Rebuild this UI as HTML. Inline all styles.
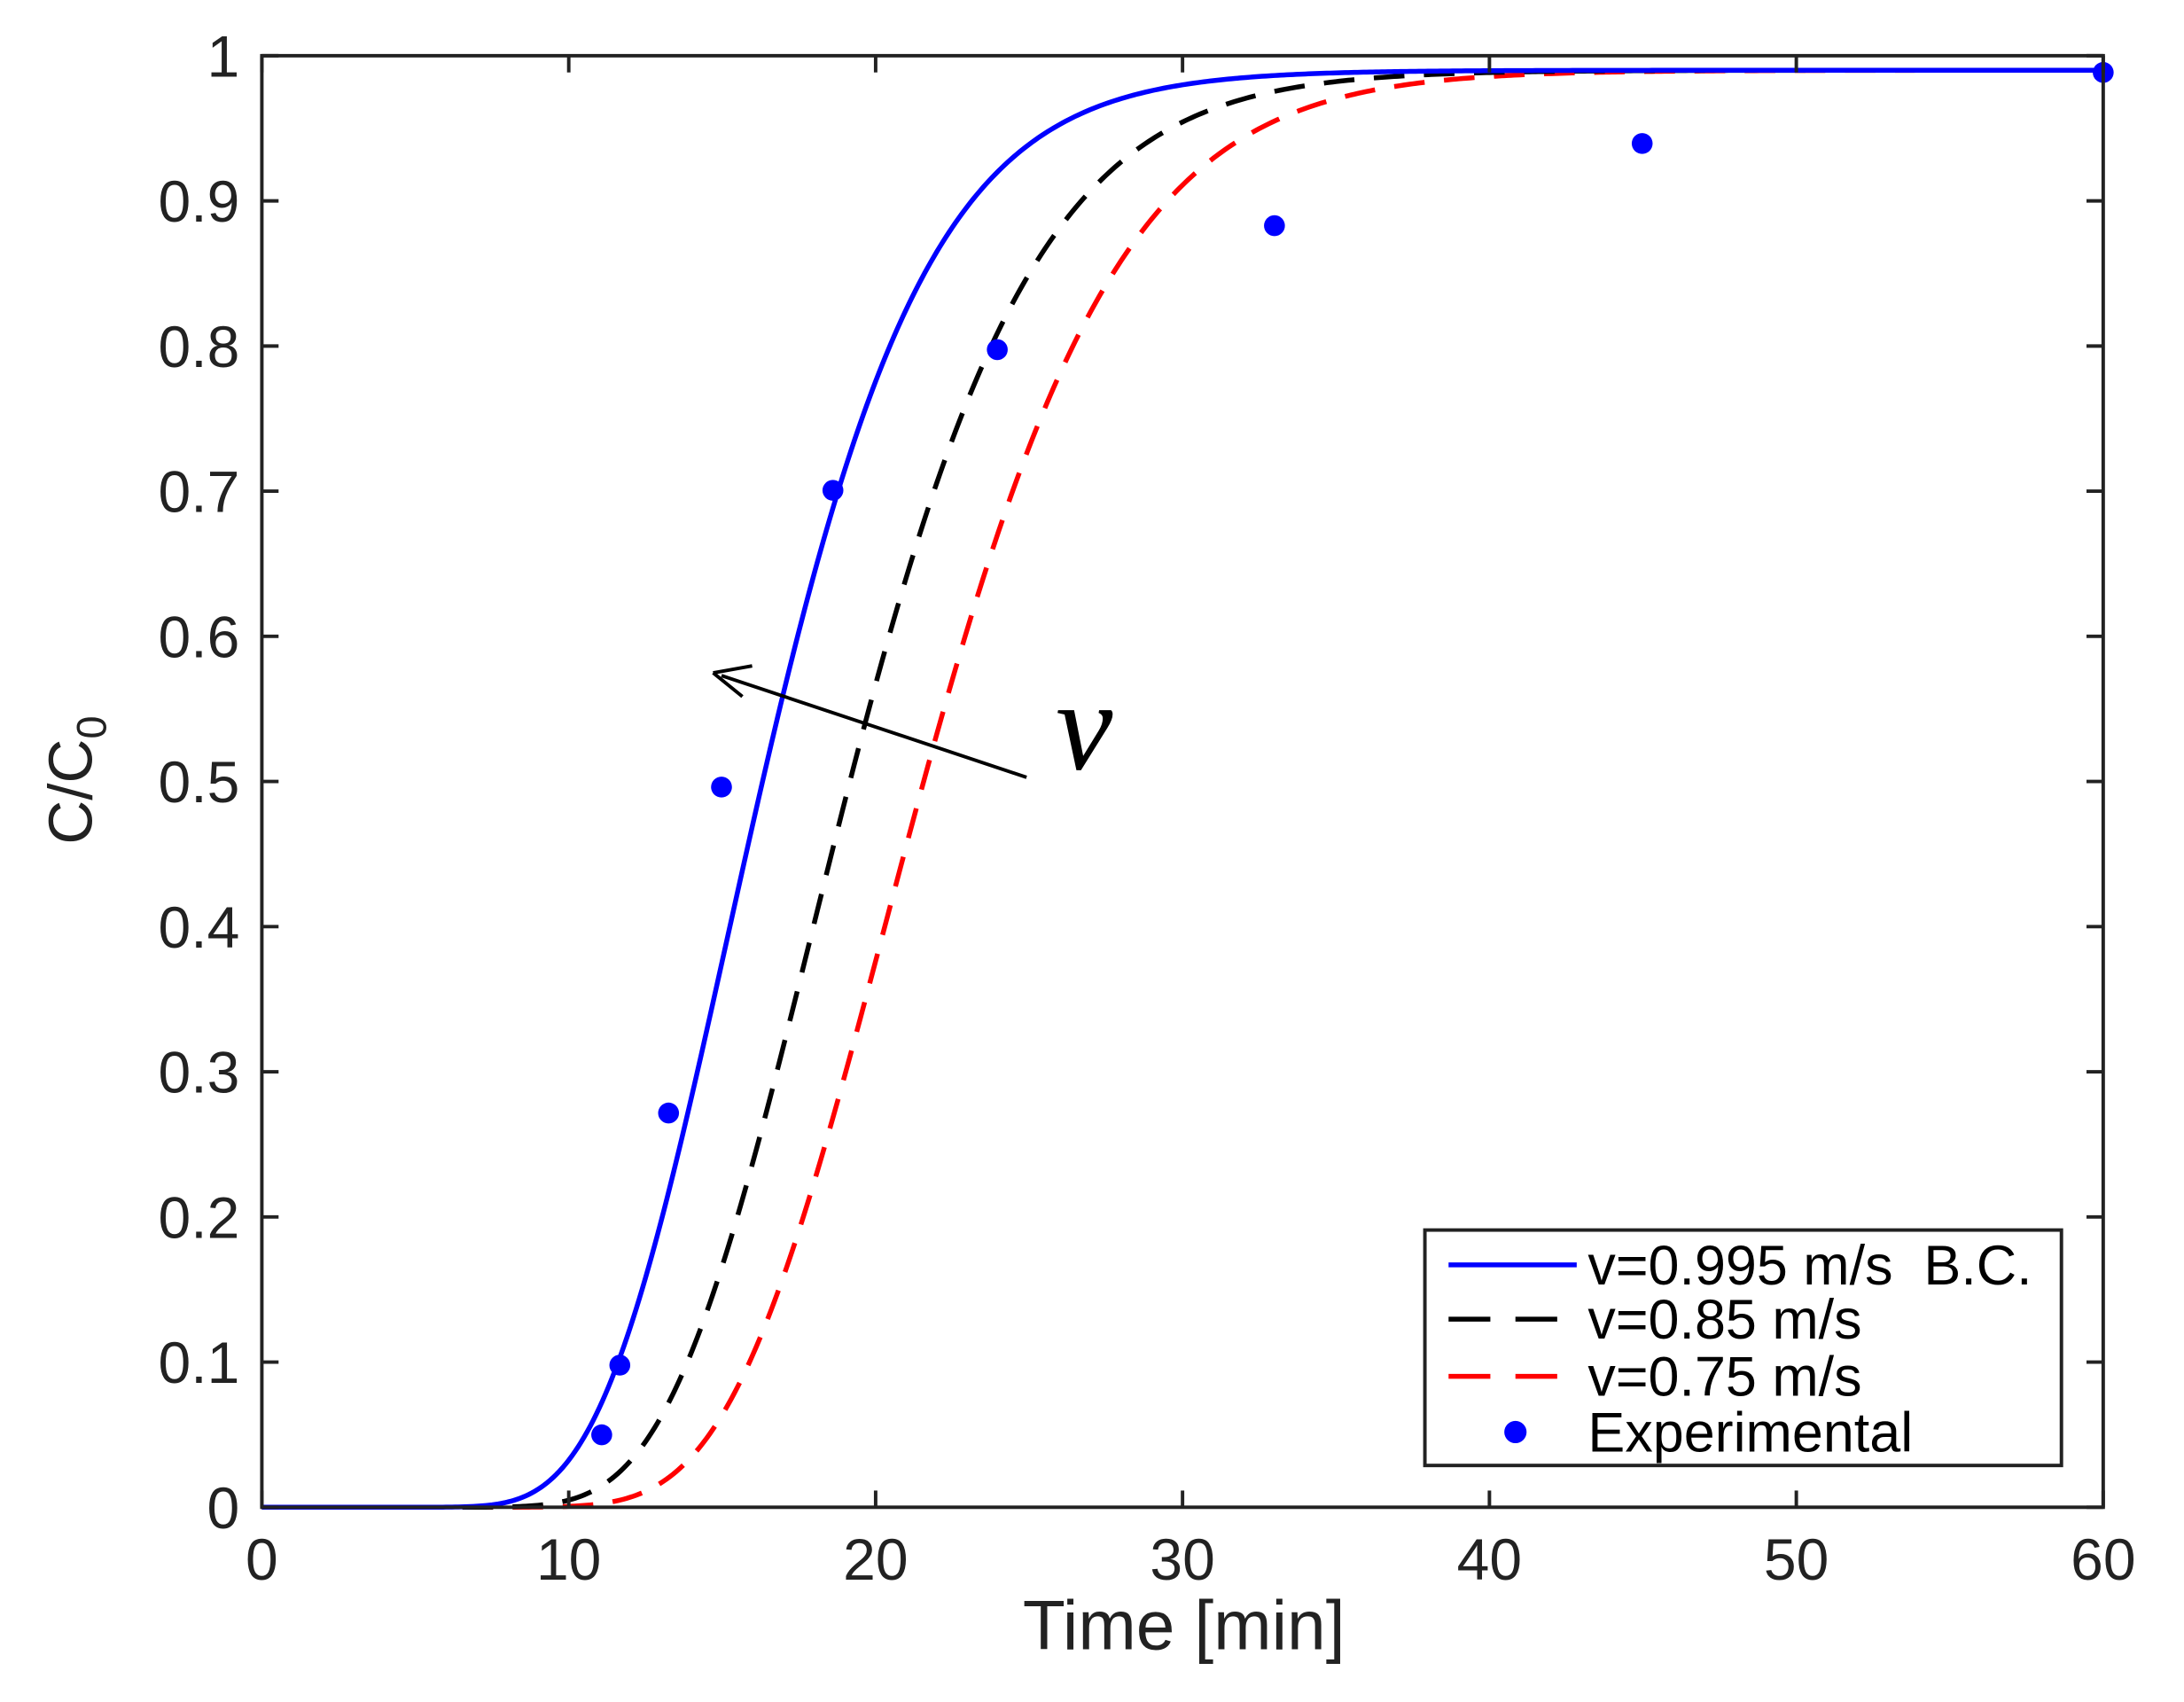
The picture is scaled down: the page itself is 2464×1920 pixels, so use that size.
<!DOCTYPE html>
<html><head><meta charset="utf-8"><style>
html,body{margin:0;padding:0;background:#fff;}
svg{display:block;}
text{font-family:"Liberation Sans",sans-serif;fill:#222;}
</style></head><body>
<svg id="s" width="2464" height="1920" viewBox="0 0 1568 1221.8" preserveAspectRatio="none" xmlns="http://www.w3.org/2000/svg">
<rect width="1600" height="1260" fill="#fff"/>
<g id="curves" fill="none" stroke-width="3.5"></g>
<g id="dots" fill="#0000ff"></g>
<g id="ticks" stroke="#222" stroke-width="2.5"></g>
<rect x="188" y="40" width="1322" height="1042" fill="none" stroke="#222" stroke-width="2.5"/>
<g font-size="42" text-anchor="end" id="yl"></g>
<g font-size="42" text-anchor="middle" id="xl"></g>
<text x="850" y="1184" font-size="50" text-anchor="middle">Time [min]</text>
<text transform="translate(66,560) rotate(-90)" font-size="44" text-anchor="middle">C/C<tspan font-size="30" dy="10">0</tspan></text>
<line x1="737" y1="558" x2="518" y2="485" stroke="#000" stroke-width="2.5"/>
<path d="M512 483 L540 478 M512 483 L533 500" stroke="#000" stroke-width="2.5" fill="none"/>
<text x="758" y="552" font-size="92" font-style="italic" style="font-family:'Liberation Serif',serif;fill:#000">ν</text>
<rect x="1023" y="883" width="457" height="169" fill="#fff" stroke="#222" stroke-width="2.5"/>
<line x1="1040" y1="908" x2="1132" y2="908" stroke="#0000ff" stroke-width="3.5"/>
<line x1="1040" y1="947" x2="1132" y2="947" stroke="#000" stroke-width="3.5" stroke-dasharray="30,18"/>
<line x1="1040" y1="988" x2="1132" y2="988" stroke="#ff0000" stroke-width="3.5" stroke-dasharray="30,18"/>
<circle cx="1088" cy="1028" r="8" fill="#0000ff"/>
<g font-size="40" style="fill:#000;white-space:pre">
<text x="1140" y="922" style="fill:#000" xml:space="preserve">v=0.995 m/s  B.C.</text>
<text x="1140" y="961" style="fill:#000">v=0.85 m/s</text>
<text x="1140" y="1002" style="fill:#000">v=0.75 m/s</text>
<text x="1140" y="1042" style="fill:#000">Experimental</text>
</g>
</svg>
<script>
var NS="http://www.w3.org/2000/svg";
function X(t){return 188+t*1322/60;}function Y(v){return 1082-v*1042;}
function el(p,tag,a,txt){var e=document.createElementNS(NS,tag);for(var k in a)e.setAttribute(k,a[k]);if(txt!=null)e.textContent=txt;document.getElementById(p).appendChild(e);}
function erf(x){var s=x<0?-1:1;x=Math.abs(x);var t=1/(1+0.3275911*x);var y=1-(((((1.061405429*t-1.453152027)*t)+1.421413741)*t-0.284496736)*t+0.254829592)*t*Math.exp(-x*x);return s*y;}
function Phi(z){return 0.5*(1+erf(z/Math.SQRT2));}
var cs=[[16.26,0.264,"#0000ff",""],[19.1,0.251,"#000","22,14"],[21.5,0.237,"#ff0000","22,14"]];
cs.reverse().forEach(function(c){var d="";for(var t=0;t<=60.001;t+=0.1){var v=t<=0?0:0.99*Phi(Math.log(t/c[0])/c[1]);d+=(d?"L":"M")+X(t).toFixed(2)+" "+Y(v).toFixed(2);}
el("curves","path",{d:d,stroke:c[2],"stroke-dasharray":c[3]||"none"});});
[[432,1030],[445,980],[480,799],[518,565],[598,352],[716,251],[915,162],[1179,103],[1510,52]].forEach(function(p){el("dots","circle",{cx:p[0],cy:p[1],r:7.5});});
for(var i=0;i<=10;i++){var y=Y(i/10);el("ticks","line",{x1:188,y1:y,x2:200,y2:y});el("ticks","line",{x1:1510,y1:y,x2:1498,y2:y});
el("yl","text",{x:172,y:y+15},i==0?"0":i==10?"1":"0."+i);}
for(var j=0;j<=6;j++){var x=X(j*10);el("ticks","line",{x1:x,y1:1082,x2:x,y2:1070});el("ticks","line",{x1:x,y1:40,x2:x,y2:52});
el("xl","text",{x:x,y:1134},String(j*10));}
</script>
</body></html>
